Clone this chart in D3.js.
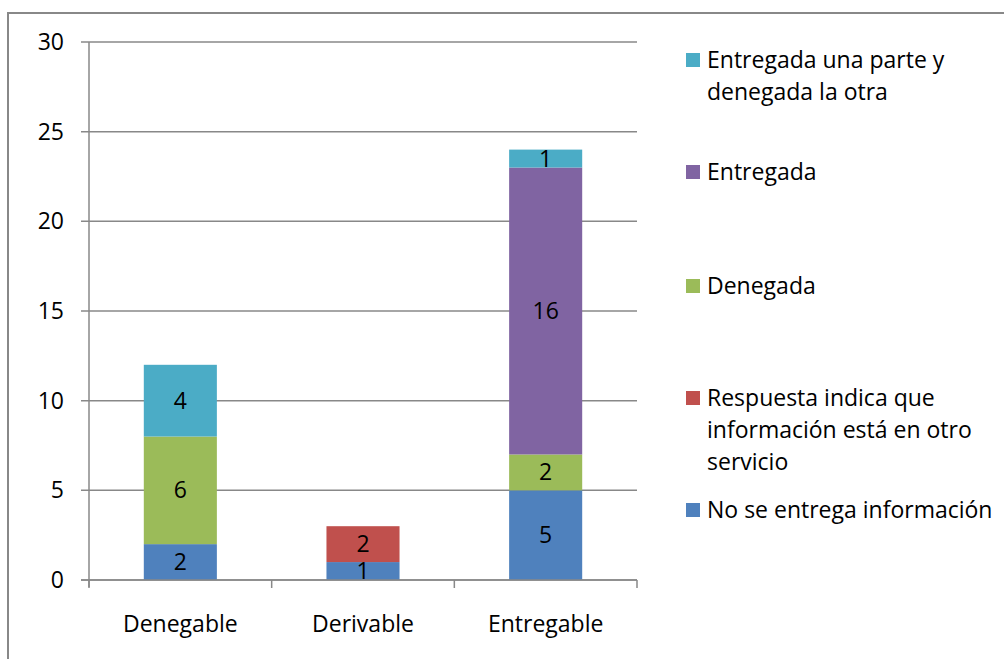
<!DOCTYPE html>
<html><head><meta charset="utf-8">
<script src="https://cdn.jsdelivr.net/npm/d3@7"></script>
<style>body{margin:0;background:#fff}svg{display:block}</style>
</head><body><svg id="c" width="1004" height="659"></svg>
<script>
const categories = ["Denegable", "Derivable", "Entregable"];
const seriesNames = ["No se entrega información", "Respuesta indica que información está en otro servicio", "Denegada", "Entregada", "Entregada una parte y denegada la otra"];
const noSeEntrega = [2, 1, 5];
const respuestaOtro = [0, 2, 0];
const denegada = [6, 0, 2];
const entregada = [0, 0, 16];
const parte = [4, 0, 1];
const colors = ["#4F81BD", "#C0504D", "#9BBB59", "#8064A2", "#4BACC6"];
const yTicks = [0, 5, 10, 15, 20, 25, 30];
const legendLines = [
  ["Entregada una parte y", "denegada la otra"],
  ["Entregada"],
  ["Denegada"],
  ["Respuesta indica que", "información está en otro", "servicio"],
  ["No se entrega información"]
];
const legendColorIdx = [4, 3, 2, 1, 0];

const font = "'Open Sans', sans-serif";
const fs = 23;
const svg = d3.select("#c");
svg.append("rect").attr("x", 8).attr("y", 13).attr("width", 1010).attr("height", 660)
  .attr("fill", "none").attr("stroke", "#888").attr("stroke-width", 2);

const x = d3.scaleBand().domain(categories).range([89, 637]).paddingInner(0.6).paddingOuter(0.3);
const y = d3.scaleLinear().domain([0, 30]).range([580, 42]);

const g = svg.append("g");
g.selectAll("line.grid").data(yTicks).join("line")
  .attr("x1", 81).attr("x2", 637).attr("y1", d => y(d)).attr("y2", d => y(d))
  .attr("stroke", "#888").attr("stroke-width", 1.5);
g.selectAll("text.yt").data(yTicks).join("text")
  .attr("x", 64).attr("y", d => y(d)).attr("dy", "0.35em").attr("text-anchor", "end")
  .attr("font-family", font).attr("font-size", fs).attr("fill", "#000").text(d => d);

const stackData = categories.map((c, i) => ({cat: c, s0: noSeEntrega[i], s1: respuestaOtro[i], s2: denegada[i], s3: entregada[i], s4: parte[i]}));
const stack = d3.stack().keys(["s0", "s1", "s2", "s3", "s4"])(stackData);
stack.forEach((layer, li) => {
  layer.forEach((d, ci) => {
    const v = d[1] - d[0];
    if (v <= 0) return;
    g.append("rect").attr("x", x(categories[ci])).attr("width", x.bandwidth())
      .attr("y", y(d[1])).attr("height", y(d[0]) - y(d[1])).attr("fill", colors[li]);
    g.append("text").attr("x", x(categories[ci]) + x.bandwidth() / 2)
      .attr("y", (y(d[0]) + y(d[1])) / 2).attr("dy", "0.35em").attr("text-anchor", "middle")
      .attr("font-family", font).attr("font-size", fs).attr("fill", "#000").text(v);
  });
});

g.append("line").attr("x1", 89).attr("x2", 89).attr("y1", 42).attr("y2", 587).attr("stroke", "#888").attr("stroke-width", 1.5);
g.append("line").attr("x1", 81).attr("x2", 637).attr("y1", 580).attr("y2", 580).attr("stroke", "#888").attr("stroke-width", 1.5);
const step = (637 - 89) / categories.length;
d3.range(categories.length + 1).forEach(i => {
  g.append("line").attr("x1", 89 + i * step).attr("x2", 89 + i * step).attr("y1", 580).attr("y2", 588)
    .attr("stroke", "#888").attr("stroke-width", 1.5);
});
g.selectAll("text.xt").data(categories).join("text")
  .attr("x", d => x(d) + x.bandwidth() / 2).attr("y", 624).attr("dy", "0.35em").attr("text-anchor", "middle")
  .attr("font-family", font).attr("font-size", fs).attr("fill", "#000").text(d => d);

const legendTop = [60, 172, 286, 398, 510];
legendLines.forEach((lines, i) => {
  svg.append("rect").attr("x", 686).attr("y", legendTop[i] - 7).attr("width", 14).attr("height", 14)
    .attr("fill", colors[legendColorIdx[i]]);
  lines.forEach((t, j) => {
    svg.append("text").attr("x", 707).attr("y", legendTop[i] + j * 32).attr("dy", "0.35em")
      .attr("font-family", font).attr("font-size", fs).attr("fill", "#000").text(t);
  });
});
</script></body></html>
